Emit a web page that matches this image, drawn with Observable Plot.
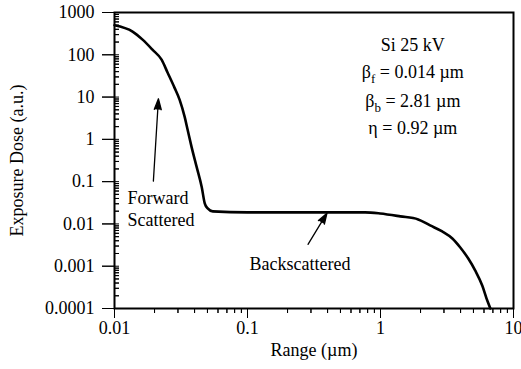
<!DOCTYPE html>
<html>
<head>
<meta charset="utf-8">
<script src="https://cdn.jsdelivr.net/npm/d3@7"></script>
<script src="https://cdn.jsdelivr.net/npm/@observablehq/plot@0.6"></script>
<style>
  html, body { margin: 0; padding: 0; background: #fff; }
  #chart svg { display: block; }
</style>
</head>
<body>
<div id="chart"></div>
<script>
// Range (µm) and exposure dose (a.u.)
const rangeUm = [0.01, 0.01367, 0.01626, 0.0193, 0.0226, 0.0251, 0.0283, 0.0309, 0.0337, 0.0355, 0.038, 0.0415, 0.0453, 0.0477, 0.0502, 0.0548, 0.1, 0.3, 0.766, 0.993, 1.41, 1.92, 2.36, 2.91, 3.47, 3.98, 4.57, 5.16, 5.83, 6.36, 6.70];
const dose    = [500, 354, 228, 132, 76.5, 37.6, 16.5, 8.6, 3.39, 1.66, 0.656, 0.22, 0.0736, 0.0307, 0.0233, 0.0198, 0.0188, 0.0188, 0.0188, 0.0177, 0.0151, 0.0128, 0.0092, 0.00664, 0.00453, 0.00277, 0.00152, 0.000786, 0.000346, 0.000152, 0.0001];

// Axis ticks
const xMajor = [0.01, 0.1, 1, 10];
const xMajorLabels = ["0.01", "0.1", "1", "10"];
const yMajor = [0.0001, 0.001, 0.01, 0.1, 1, 10, 100, 1000];
const yMajorLabels = ["0.0001", "0.001", "0.01", "0.1", "1", "10", "100", "1000"];
const minorMultipliers = [2, 3, 4, 5, 6, 7, 8, 9];

// Annotations (positions in data units)
const infoLines = ["Si 25 kV", "βf = 0.014 µm", "βb = 2.81 µm", "η = 0.92 µm"];
const infoX = [1.75, 1.75, 1.75, 1.75];
const infoY = [165, 37.7, 8.16, 1.87];
const noteTexts = ["Forward", "Scattered", "Backscattered"];
const noteX = [0.01253, 0.01253, 0.248];
const noteY = [0.0407, 0.01225, 0.00111];
const noteAnchor = ["start", "start", "middle"];
const arrowX1 = [0.0196, 0.285];
const arrowY1 = [0.103, 0.0033];
const arrowX2 = [0.0214, 0.396];
const arrowY2 = [9.1, 0.018];

const curve = rangeUm.map((r, i) => ({range: r, dose: dose[i]}));
const xMinor = xMajor.slice(0, -1).flatMap(d => minorMultipliers.map(m => +(d * m).toPrecision(6)));
const yMinor = yMajor.slice(0, -1).flatMap(d => minorMultipliers.map(m => +(d * m).toPrecision(6)));
const infos = infoLines.map((t, i) => ({t, x: infoX[i], y: infoY[i]}));
const notes = noteTexts.map((t, i) => ({t, x: noteX[i], y: noteY[i], a: noteAnchor[i]}));
const arrows = arrowX1.map((d, i) => ({x1: d, y1: arrowY1[i], x2: arrowX2[i], y2: arrowY2[i]}));

const W = 521, H = 369, ML = 114, MR = 8, MT = 12, MB = 61;
const PW = W - ML - MR, PH = H - MT - MB;
const FS = 18;
const FONT = "'Liberation Serif', 'Times New Roman', serif";
const blank = () => "";

const chart = Plot.plot({
  width: W, height: H,
  marginLeft: ML, marginRight: MR, marginTop: MT, marginBottom: MB,
  style: {fontFamily: FONT, fontSize: FS + "px", color: "#000", background: "#fff"},
  x: {type: "log", domain: [0.01, 10]},
  y: {type: "log", domain: [0.0001, 1000]},
  marks: [
    Plot.frame({stroke: "#000", strokeWidth: 2}),
    // left axis: major ticks outward with labels
    Plot.axisY({ticks: yMajor, tickSize: 12, tickPadding: 8,
      tickFormat: d => yMajorLabels[yMajor.indexOf(d)], fontSize: FS,
      label: "Exposure Dose (a.u.)", labelAnchor: "center", labelArrow: false, labelOffset: 104}),
    // left axis: minor ticks inward
    Plot.axisY({ticks: yMinor, tickSize: -5, tickPadding: 0, tickFormat: blank, label: null}),
    Plot.tickY(yMinor, {y: d => d, stroke: "#000", insetRight: PW - 5}),
    Plot.tickY(yMajor, {y: d => d, stroke: "#000", insetLeft: -12, insetRight: PW - 5}),
    // bottom axis: major ticks outward with labels
    Plot.axisX({ticks: xMajor, tickSize: 10, tickPadding: 3,
      tickFormat: d => xMajorLabels[xMajor.indexOf(d)], fontSize: FS,
      label: "Range (µm)", labelAnchor: "center", labelArrow: false, labelOffset: 47}),
    // bottom axis: minor ticks outward
    Plot.axisX({ticks: xMinor, tickSize: 5, tickPadding: 0, tickFormat: blank, label: null}),
    Plot.tickX(xMinor, {x: d => d, stroke: "#000", insetTop: PH, insetBottom: -5}),
    Plot.tickX(xMajor, {x: d => d, stroke: "#000", insetTop: PH, insetBottom: -10}),
    // data and annotations
    Plot.line(curve, {x: "range", y: "dose", stroke: "#000", strokeWidth: 2.6, curve: "monotone-x"}),
    Plot.arrow(arrows, {x1: "x1", y1: "y1", x2: "x2", y2: "y2", stroke: "#000", fill: "#000", strokeWidth: 1.3, headLength: 13, headAngle: 36}),
    Plot.text(notes, {x: "x", y: "y", text: "t", textAnchor: "start", filter: d => d.a === "start", fontSize: FS}),
    Plot.text(notes, {x: "x", y: "y", text: "t", textAnchor: "middle", filter: d => d.a === "middle", fontSize: FS}),
    Plot.text(infos, {x: "x", y: "y", text: "t", textAnchor: "middle", fontSize: FS})
  ]
});

// subscripts for beta labels
chart.querySelectorAll("text").forEach(el => {
  const s = el.textContent;
  if (/^β[fb] = /.test(s)) {
    const sub = s[1];
    const rest = s.slice(2);
    el.textContent = "β";
    const ns = "http://www.w3.org/2000/svg";
    const t1 = document.createElementNS(ns, "tspan");
    t1.setAttribute("dy", "5");
    t1.setAttribute("font-size", "13");
    t1.textContent = sub;
    const t2 = document.createElementNS(ns, "tspan");
    t2.setAttribute("dy", "-5");
    t2.textContent = rest;
    el.appendChild(t1);
    el.appendChild(t2);
  }
});

document.getElementById("chart").appendChild(chart);
</script>
</body>
</html>
